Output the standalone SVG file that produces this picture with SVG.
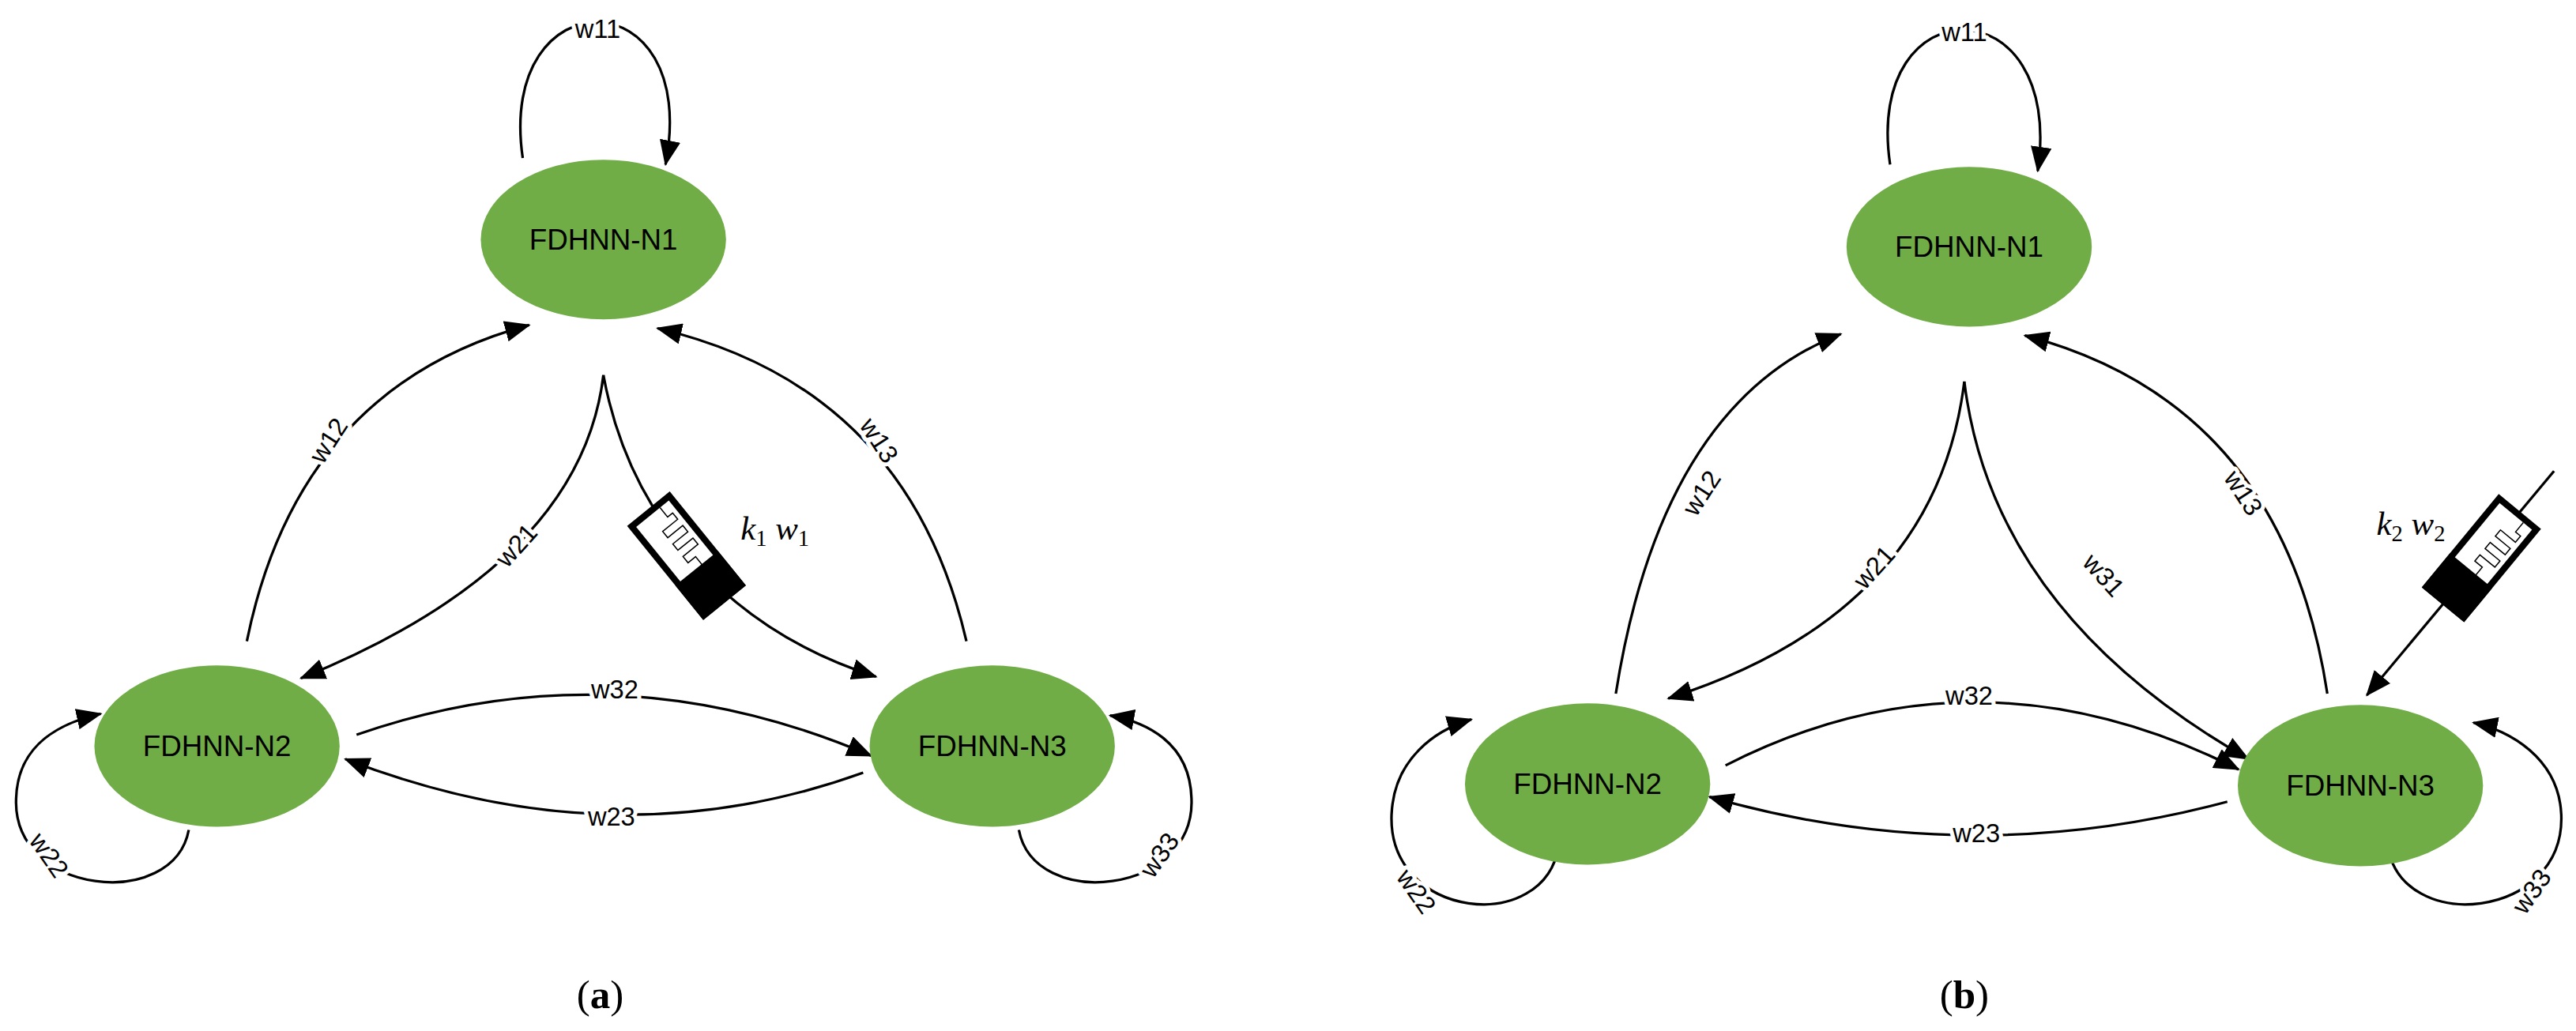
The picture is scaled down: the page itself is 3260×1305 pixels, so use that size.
<svg xmlns="http://www.w3.org/2000/svg" width="3260" height="1305" viewBox="0 0 3260 1305">
<style>
.node ellipse{fill:#70ad47}
.node text{font-family:"Liberation Sans","DejaVu Sans",sans-serif;font-size:36px;fill:#000;text-anchor:middle;dominant-baseline:central}
.edge{fill:none;stroke:#000;stroke-width:3.2}
.arr{marker-end:url(#ah)}
.lbl{font-family:"Liberation Sans","DejaVu Sans",sans-serif;font-size:32px;fill:#000;text-anchor:middle;dominant-baseline:central;stroke:#fff;stroke-width:10;paint-order:stroke;stroke-linejoin:round}
.math{font-family:"Liberation Serif","DejaVu Serif",serif;font-size:42px;font-style:italic}
.sub{font-style:normal;font-size:28px}
.cap{font-family:"Liberation Serif","DejaVu Serif",serif;font-size:50px;text-anchor:middle}
</style>
<defs>
<marker id="ah" markerUnits="userSpaceOnUse" markerWidth="32" markerHeight="26" viewBox="0 0 32 26" refX="30" refY="13" orient="auto">
<path d="M0,0 L32,13 L0,26 z" fill="#000"/>
</marker>
<g id="syr">
<rect x="-71" y="-30" width="142" height="60" fill="#fff" stroke="#000" stroke-width="8"/>
<path d="M-67,-12 H-52 V-20 H-42 V4 H-32 V-20 H-22 V4 H-12 V-20 H-2 V4 H8 V-8 H22" fill="none" stroke="#000" stroke-width="1.5"/>
<rect x="20" y="-34" width="55" height="68" fill="#000"/>
</g>
</defs>
<g transform="scale(1.0209)">
<g id="connectors">
<!-- panel a -->
<path class="edge arr" d="M648,196 C615,-30 870,-30 825,204"/>
<path class="edge arr" d="M306,795 Q370,480 656,403"/>
<path class="edge arr" d="M1198,795 Q1125,480 815,407"/>
<path class="edge arr" d="M748,465 Q720,700 373,841"/>
<path class="edge arr" d="M748,465 C780,640 900,780 1086,839"/>
<path class="edge arr" d="M442,911 Q760,800 1080,937"/>
<path class="edge arr" d="M1070,958 Q760,1070 428,941"/>
<path class="edge arr" d="M234,1029 C215,1130 15,1110 20,990 C22,920 80,895 125,885"/>
<path class="edge arr" d="M1263,1029 C1282,1130 1482,1110 1477,990 C1475,920 1420,895 1376,887"/>
<!-- panel b -->
<path class="edge arr" d="M2343,204 C2310,-20 2560,-20 2526,212"/>
<path class="edge arr" d="M2003,860 Q2060,500 2282,414"/>
<path class="edge arr" d="M2885,860 Q2830,500 2510,416"/>
<path class="edge arr" d="M2435,473 Q2400,760 2068,866"/>
<path class="edge arr" d="M2435,473 Q2470,760 2787,941"/>
<path class="edge arr" d="M2139,949 Q2450,790 2775,954"/>
<path class="edge arr" d="M2761,994 Q2440,1080 2119,988"/>
<path class="edge arr" d="M1932,1049 C1915,1160 1720,1140 1725,1010 C1728,940 1780,905 1824,892"/>
<path class="edge arr" d="M2960,1049 C2977,1160 3180,1140 3175,1010 C3172,940 3110,905 3066,896"/>
<path class="edge arr" d="M3166,584 L2934,862"/>
<!-- labels -->
<text class="lbl" x="741" y="36">w11</text>
<text class="lbl" x="407" y="546" transform="rotate(-57 407 546)">w12</text>
<text class="lbl" x="1090" y="546" transform="rotate(57 1090 546)">w13</text>
<text class="lbl" x="640" y="676" transform="rotate(-48 640 676)">w21</text>
<text class="lbl" x="762" y="855">w32</text>
<text class="lbl" x="758" y="1012">w23</text>
<text class="lbl" x="61" y="1060" transform="rotate(55 61 1060)">w22</text>
<text class="lbl" x="1437" y="1060" transform="rotate(-55 1437 1060)">w33</text>
<text class="lbl" x="2435" y="40">w11</text>
<text class="lbl" x="2109" y="611" transform="rotate(-57 2109 611)">w12</text>
<text class="lbl" x="2781" y="611" transform="rotate(57 2781 611)">w13</text>
<text class="lbl" x="2323" y="703" transform="rotate(-48 2323 703)">w21</text>
<text class="lbl" x="2608" y="713" transform="rotate(48 2608 713)">w31</text>
<text class="lbl" x="2441" y="862">w32</text>
<text class="lbl" x="2450" y="1033">w23</text>
<text class="lbl" x="1756" y="1105" transform="rotate(55 1756 1105)">w22</text>
<text class="lbl" x="3138" y="1105" transform="rotate(-55 3138 1105)">w33</text>
</g>
<g id="syringe-a"><use href="#syr" transform="translate(851,689) rotate(51)"/>
<text class="math" x="918" y="669">k<tspan class="sub" dy="8">1</tspan><tspan dy="-8"> w</tspan><tspan class="sub" dy="8">1</tspan></text></g>
<g id="syringe-b"><use href="#syr" transform="translate(3076,692) rotate(129.5)"/>
<text class="math" x="2946" y="663">k<tspan class="sub" dy="8">2</tspan><tspan dy="-8"> w</tspan><tspan class="sub" dy="8">2</tspan></text></g>
<g id="a-n1" class="node"><ellipse cx="748" cy="297" rx="152" ry="99"/><text x="748" y="297">FDHNN-N1</text></g>
<g id="a-n2" class="node"><ellipse cx="269" cy="925" rx="152" ry="100"/><text x="269" y="925">FDHNN-N2</text></g>
<g id="a-n3" class="node"><ellipse cx="1230" cy="925" rx="152" ry="100"/><text x="1230" y="925">FDHNN-N3</text></g>
<g id="b-n1" class="node"><ellipse cx="2441" cy="306" rx="152" ry="99"/><text x="2441" y="306">FDHNN-N1</text></g>
<g id="b-n2" class="node"><ellipse cx="1968" cy="972" rx="152" ry="100"/><text x="1968" y="972">FDHNN-N2</text></g>
<g id="b-n3" class="node"><ellipse cx="2926" cy="974" rx="152" ry="100"/><text x="2926" y="974">FDHNN-N3</text></g>
<text class="cap" x="744" y="1250">(<tspan font-weight="bold">a</tspan>)</text>
<text class="cap" x="2435" y="1250">(<tspan font-weight="bold">b</tspan>)</text>
</g>
</svg>
